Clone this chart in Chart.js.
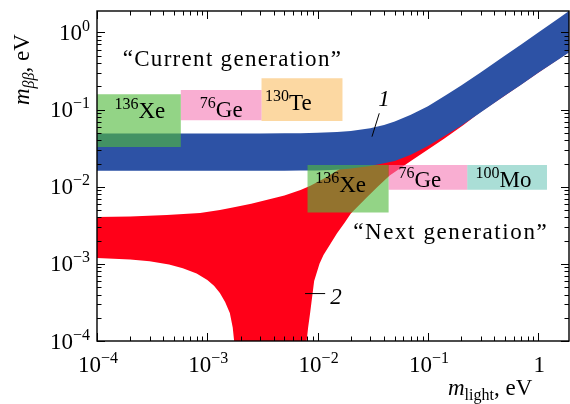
<!DOCTYPE html>
<html><head><meta charset="utf-8">
<script src="https://cdn.jsdelivr.net/npm/chart.js@4.4.1/dist/chart.umd.min.js"></script>
<style>html,body{margin:0;padding:0;background:#fff}canvas{display:block}</style>
</head><body>
<canvas id="c" width="570" height="404"></canvas>
<script>
// ---------- data ----------
// Inverted hierarchy band (1): m_lightest vs m_bb bounds, eV
const ihMass  = [1e-4, 3e-4, 1e-3, 3e-3, 5e-3, 7e-3, 0.01, 0.015, 0.02, 0.03, 0.04, 0.05, 0.07, 0.1, 0.15, 0.2, 0.3, 0.5, 0.7, 1.0, 1.5, 1.9];
const ihUpper = [0.049, 0.049, 0.049, 0.0491, 0.0493, 0.0495, 0.050, 0.0512, 0.0529, 0.0574, 0.063, 0.070, 0.0855, 0.111, 0.158, 0.206, 0.304, 0.502, 0.70, 1.0, 1.5, 1.9];
const ihLower = [0.0161, 0.0161, 0.0161, 0.0161, 0.0161, 0.0162, 0.0163, 0.0166, 0.0172, 0.0186, 0.0201, 0.0215, 0.026, 0.0338, 0.048, 0.062, 0.092, 0.152, 0.21, 0.30, 0.44, 0.55];

// Normal hierarchy band (2): upper bound
const nhUpperMass = [1e-4, 2e-4, 4.3e-4, 8.6e-4, 1.3e-3, 1.7e-3, 2.5e-3, 3.5e-3, 5e-3, 7e-3, 8.6e-3, 0.012, 0.016, 0.02, 0.03, 0.05, 0.1, 0.2, 0.5, 1.0, 1.9];
const nhUpper     = [0.00405, 0.00412, 0.0043, 0.00458, 0.0050, 0.0054, 0.0060, 0.0068, 0.0077, 0.0091, 0.0103, 0.0133, 0.0171, 0.021, 0.030, 0.048, 0.092, 0.18, 0.45, 0.9, 1.7];
// Normal hierarchy lower bound (1e-6 stands for "cancels to zero")
const nhLowerMass = [1e-4, 2e-4, 3e-4, 4.5e-4, 6e-4, 8e-4, 1e-3, 1.15e-3, 1.3e-3, 1.45e-3, 1.6e-3, 1.7e-3, 1.75e-3, 1.78e-3, 1.82e-3,
                     7.75e-3, 7.8e-3, 7.95e-3, 8.2e-3, 8.55e-3, 9.3e-3, 0.0104, 0.0113, 0.013, 0.015, 0.0175, 0.02, 0.028, 0.035, 0.045, 0.07, 0.105, 0.14, 0.21, 0.3, 0.5, 1.0, 1.9];
const nhLower     = [0.00119, 0.00114, 0.00108, 0.00098, 0.00088, 0.00075, 0.00062, 0.00052, 0.00042, 0.00032, 0.00023, 0.00015, 0.0001, 0.00005, 1e-6,
                     1e-6, 0.00005, 0.0001, 0.00015, 0.00023, 0.0006, 0.001, 0.0013, 0.0018, 0.0025, 0.0034, 0.0045, 0.0073, 0.010, 0.014, 0.0215, 0.0318, 0.042, 0.0632, 0.093, 0.153, 0.30, 0.56];

// Experimental sensitivity boxes
const expElement    = ['Xe', 'Ge', 'Te', 'Xe', 'Ge', 'Mo'];
const expMassNumber = ['136', '76', '130', '136', '76', '100'];
const expLightMin   = [1e-4, 5.75e-4, 3.1e-3, 8.1e-3, 0.044, 0.227];
const expLightMax   = [5.75e-4, 3.1e-3, 0.0168, 0.044, 0.227, 1.2];
const expBBMin      = [0.0328, 0.073, 0.071, 0.00462, 0.00914, 0.00914];
const expBBMax      = [0.158, 0.179, 0.255, 0.0192, 0.0192, 0.0192];

// Axes
const axisMin = 1e-4, axisMax = 1.9;
const xTickValues = [1e-4, 1e-3, 1e-2, 1e-1, 1];
const xTickBase   = ['10', '10', '10', '10', '1'];
const xTickExp    = ['\u22124', '\u22123', '\u22122', '\u22121', ''];
const yTickValues = [1e-4, 1e-3, 1e-2, 1e-1, 1];
const yTickBase   = ['10', '10', '10', '10', '10'];
const yTickExp    = ['\u22124', '\u22123', '\u22122', '\u22121', '0'];

// ---------- styling / layout ----------
const SERIF = "'Liberation Serif','DejaVu Serif',serif";
const boxColors = ['rgba(80,185,60,0.62)', 'rgba(245,120,180,0.6)', 'rgba(250,190,100,0.6)',
                   'rgba(80,185,60,0.62)', 'rgba(245,120,180,0.6)', 'rgba(100,195,180,0.55)'];
// label anchors (data coordinates of text start / baseline)
const boxLabelAt = [[1.44e-4, 0.0778], [8.55e-4, 0.0802], [3.33e-3, 0.0988], [9.5e-3, 0.00867], [0.054, 0.01006], [0.27, 0.01006]];

function band(xu, yu, xl, yl) {
  const pts = [];
  for (let i = 0; i < xu.length; i++) pts.push({x: xu[i], y: yu[i]});
  for (let i = xl.length - 1; i >= 0; i--) pts.push({x: xl[i], y: yl[i]});
  pts.push({x: xu[0], y: yu[0]});
  return pts;
}
function rect(i) {
  return [{x: expLightMin[i], y: expBBMin[i]}, {x: expLightMax[i], y: expBBMin[i]},
          {x: expLightMax[i], y: expBBMax[i]}, {x: expLightMin[i], y: expBBMax[i]},
          {x: expLightMin[i], y: expBBMin[i]}];
}
const common = {showLine: true, fill: 'shape', pointRadius: 0, pointHoverRadius: 0, borderWidth: 0,
                borderColor: 'rgba(0,0,0,0)', tension: 0};
const datasets = [
  Object.assign({label: 'NH', data: band(nhUpperMass, nhUpper, nhLowerMass, nhLower), backgroundColor: 'rgb(255,0,24)', order: 10}, common),
  Object.assign({label: 'IH', data: band(ihMass, ihUpper, ihMass, ihLower), backgroundColor: 'rgb(45,82,165)', order: 9}, common)
];
for (let i = 0; i < expElement.length; i++) {
  datasets.push(Object.assign({label: expMassNumber[i] + expElement[i], data: rect(i), backgroundColor: boxColors[i], order: 1}, common));
}

function font(size, italic) { return (italic ? 'italic ' : '') + size + 'px ' + SERIF; }
function partsWidth(ctx, parts) {
  let w = 0;
  for (const p of parts) { ctx.font = font(p.s, p.i); ctx.letterSpacing = (p.ls || 0) + 'px'; w += ctx.measureText(p.t).width; }
  ctx.letterSpacing = '0px';
  return w;
}
function drawParts(ctx, parts, x, y) {
  let cx = x;
  for (const p of parts) {
    ctx.font = font(p.s, p.i); ctx.letterSpacing = (p.ls || 0) + 'px';
    ctx.fillText(p.t, cx, y + (p.dy || 0));
    cx += ctx.measureText(p.t).width;
  }
  ctx.letterSpacing = '0px';
}

const decorPlugin = {
  id: 'decor',
  afterDatasetsDraw(chart) {
    const ctx = chart.ctx, a = chart.chartArea;
    const xs = chart.scales.x, ys = chart.scales.y;
    ctx.save();
    ctx.fillStyle = '#000'; ctx.strokeStyle = '#000';
    ctx.textBaseline = 'alphabetic'; ctx.textAlign = 'left';
    // ticks (inward, all four sides)
    ctx.lineWidth = 1;
    for (let e = -4; e <= 0; e++) {
      for (let k = 1; k <= 9; k++) {
        const v = k * Math.pow(10, e);
        if (v < axisMin * 0.999 || v > axisMax) continue;
        const len = k === 1 ? 8 : 4.5;
        const px = Math.round(xs.getPixelForValue(v)) + 0.5;
        const py = Math.round(ys.getPixelForValue(v)) + 0.5;
        ctx.beginPath();
        ctx.moveTo(px, a.bottom); ctx.lineTo(px, a.bottom - len);
        ctx.moveTo(px, a.top); ctx.lineTo(px, a.top + len);
        ctx.moveTo(a.left, py); ctx.lineTo(a.left + len, py);
        ctx.moveTo(a.right, py); ctx.lineTo(a.right - len, py);
        ctx.stroke();
      }
    }
    // frame
    ctx.lineWidth = 1.4;
    ctx.strokeRect(a.left, a.top, a.right - a.left, a.bottom - a.top);
    // tick labels
    for (let i = 0; i < xTickValues.length; i++) {
      const parts = [{t: xTickBase[i], s: 23}];
      if (xTickExp[i]) parts.push({t: xTickExp[i], s: 16, dy: -9});
      const w = partsWidth(ctx, parts);
      drawParts(ctx, parts, xs.getPixelForValue(xTickValues[i]) - w / 2 + 1, a.bottom + 31);
    }
    for (let i = 0; i < yTickValues.length; i++) {
      const parts = [{t: yTickBase[i], s: 23}, {t: yTickExp[i], s: 16, dy: -9}];
      const w = partsWidth(ctx, parts);
      drawParts(ctx, parts, a.left - 7 - w, ys.getPixelForValue(yTickValues[i]) + 7.5);
    }
    // axis titles
    drawParts(ctx, [{t: 'm', s: 23, i: true}, {t: 'light', s: 16, dy: 5}, {t: ', eV', s: 23}], 448, 395);
    ctx.save();
    ctx.translate(29, 105); ctx.rotate(-Math.PI / 2);
    drawParts(ctx, [{t: 'm', s: 23, i: true}, {t: '\u03b2\u03b2', s: 16, i: true, dy: 5}, {t: ', eV', s: 23}], 0, 0);
    ctx.restore();
    // box labels
    for (let i = 0; i < expElement.length; i++) {
      const x = xs.getPixelForValue(boxLabelAt[i][0]), y = ys.getPixelForValue(boxLabelAt[i][1]);
      drawParts(ctx, [{t: expMassNumber[i], s: 16, dy: -9}, {t: expElement[i], s: 23}], x, y);
    }
    // generation notes
    drawParts(ctx, [{t: '\u201cCurrent generation\u201d', s: 23, ls: 1.3}], xs.getPixelForValue(1.71e-4), ys.getPixelForValue(0.366));
    drawParts(ctx, [{t: '\u201cNext generation\u201d', s: 23, ls: 1.6}], xs.getPixelForValue(0.021), ys.getPixelForValue(2.12e-3));
    // curve labels with leaders
    ctx.lineWidth = 1;
    ctx.beginPath();
    ctx.moveTo(xs.getPixelForValue(0.0362), ys.getPixelForValue(0.0896));
    ctx.lineTo(xs.getPixelForValue(0.0311), ys.getPixelForValue(0.0446));
    ctx.moveTo(xs.getPixelForValue(7.69e-3), ys.getPixelForValue(4.12e-4));
    ctx.lineTo(xs.getPixelForValue(0.0117), ys.getPixelForValue(4.12e-4));
    ctx.stroke();
    drawParts(ctx, [{t: '1', s: 23, i: true}], xs.getPixelForValue(0.0355), ys.getPixelForValue(0.111));
    drawParts(ctx, [{t: '2', s: 23, i: true}], xs.getPixelForValue(0.013), ys.getPixelForValue(3.05e-4));
    ctx.restore();
  }
};

new Chart(document.getElementById('c'), {
  type: 'scatter',
  data: {datasets},
  options: {
    responsive: false, animation: false, devicePixelRatio: 1,
    layout: {padding: {top: 11, right: 1, left: 0, bottom: 0}},
    plugins: {legend: {display: false}, tooltip: {enabled: false}},
    scales: {
      x: {type: 'logarithmic', min: axisMin, max: axisMax, ticks: {display: false},
          grid: {display: false, drawTicks: false}, border: {display: false},
          afterFit(s) { s.height = 63; }},
      y: {type: 'logarithmic', min: axisMin, max: axisMax, ticks: {display: false},
          grid: {display: false, drawTicks: false}, border: {display: false},
          afterFit(s) { s.width = 97; }}
    }
  },
  plugins: [decorPlugin]
});
</script>
</body></html>
